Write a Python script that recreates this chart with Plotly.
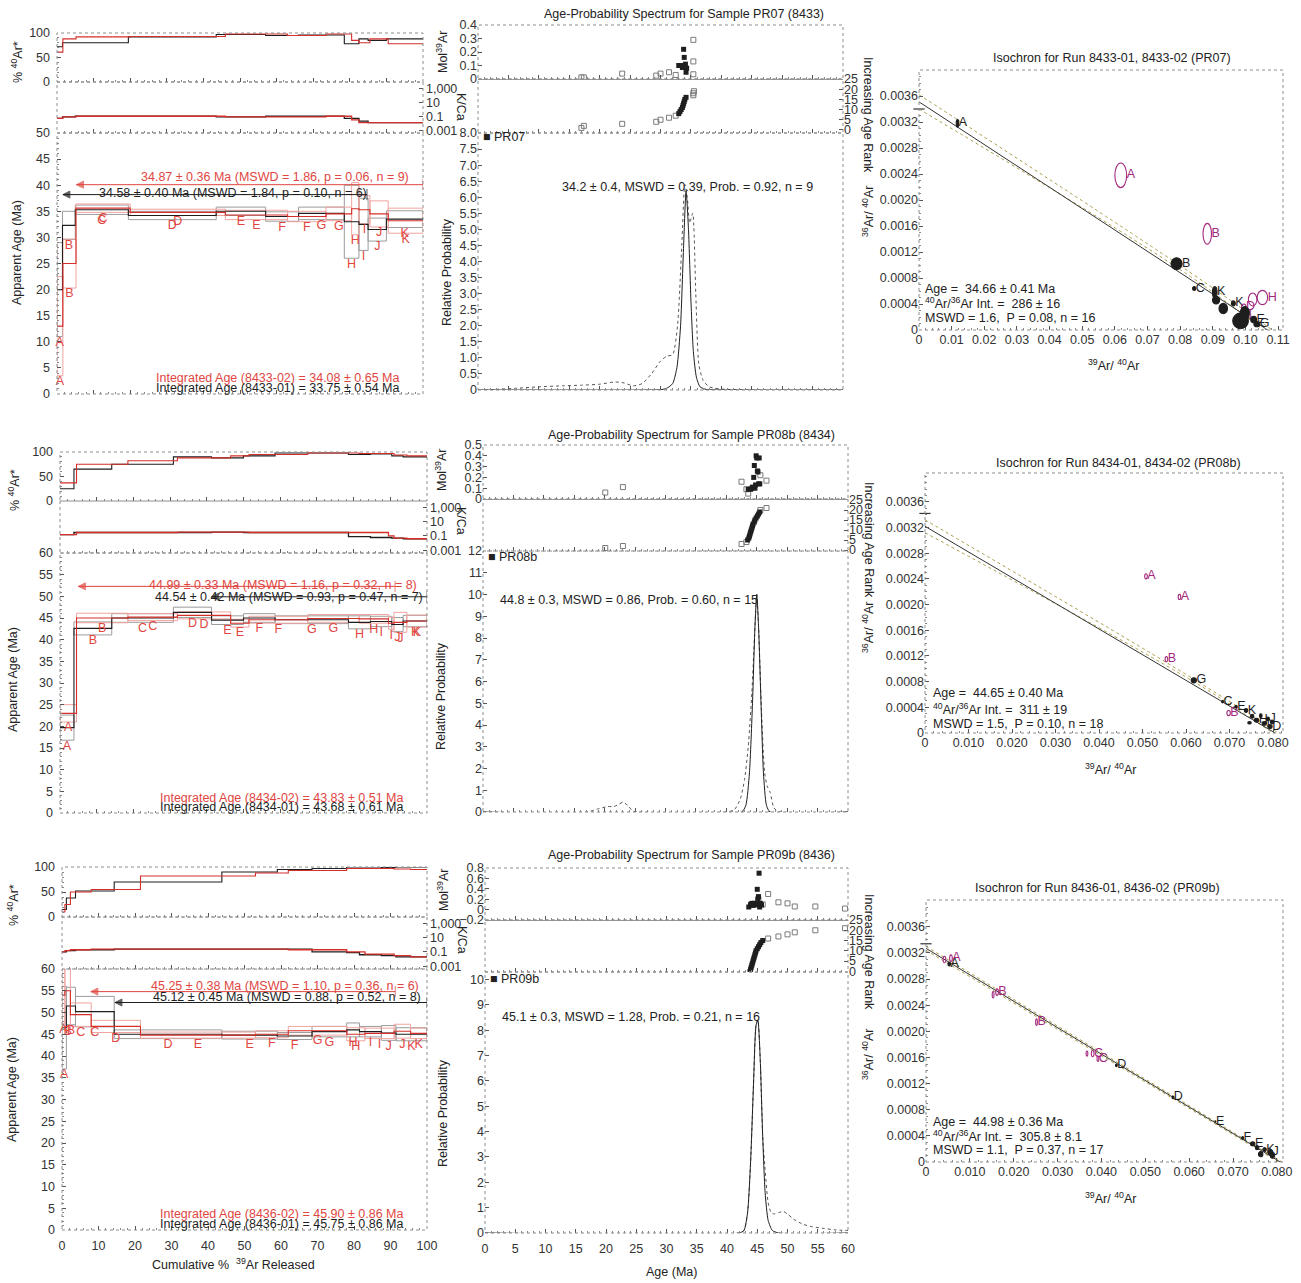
import plotly.graph_objects as go

# ======================= DATA =======================
STEPS = ["A", "B", "C", "D", "E", "F", "G", "H", "I", "J", "K"]

# ---- PR07 (8433) step heating, run -01 (black) and -02 (red)
PR07_01_cum = [0, 1.5, 5.0, 19.5, 43.5, 57, 66, 78.5, 82.5, 85, 90, 100]
PR07_01_age = [20.0, 32.3, 35.3, 34.2, 35.0, 34.0, 34.6, 33.0, 32.5, 31.5, 33.5]
PR07_01_err = [9.0, 2.7, 0.9, 0.8, 0.8, 0.9, 1.2, 7.0, 5.0, 2.2, 1.6]
PR07_01_rad = [72, 80, 80, 92, 97, 95, 96, 78, 88, 85, 88]
PR07_01_kca = [0.05, 0.08, 0.1, 0.1, 0.08, 0.1, 0.1, 0.05, 0.02, 0.012, 0.012]
PR07_02_cum = [0, 1.6, 5.2, 20, 46, 63, 73.5, 80.5, 82.5, 85.5, 90.5, 100]
PR07_02_age = [13.0, 25.0, 35.6, 34.8, 34.3, 34.0, 34.5, 35.5, 35.3, 34.5, 33.2]
PR07_02_err = [9.5, 4.7, 0.8, 0.6, 0.9, 1.0, 1.3, 5.0, 2.7, 2.5, 2.4]
PR07_02_rad = [61, 88, 92, 93, 98, 95, 98, 85, 80, 88, 78]
PR07_02_kca = [0.05, 0.08, 0.1, 0.1, 0.08, 0.08, 0.1, 0.03, 0.012, 0.012, 0.012]
PR07_PLAT_02 = [5.3, 100]
PR07_PLAT_01 = [1.6, 84.7]
PR07_PLAT_02_TXT = "34.87 ± 0.36 Ma (MSWD = 1.86, p = 0.06, n = 9)"
PR07_PLAT_01_TXT = "34.58 ± 0.40 Ma (MSWD = 1.84, p = 0.10, n = 6)"
PR07_INT_02 = "Integrated Age (8433-02) = 34.08 ± 0.65 Ma"
PR07_INT_01 = "Integrated Age (8433-01) = 33.75 ± 0.54 Ma"

# ---- PR08b (8434)
PR08_01_cum = [0, 3.8, 14.1, 30.9, 41.3, 50, 58.6, 78.6, 84.6, 90.4, 93.5, 100]
PR08_01_age = [19.7, 42.6, 45.0, 46.3, 44.5, 45.0, 44.6, 44.0, 44.2, 43.5, 44.3]
PR08_01_err = [2.9, 1.5, 1.0, 1.2, 1.0, 1.0, 0.9, 1.5, 1.2, 1.6, 1.3]
PR08_01_rad = [25, 65, 75, 90, 88, 92, 98, 95, 96, 92, 90]
PR08_01_kca = [0.15, 0.3, 0.3, 0.3, 0.35, 0.3, 0.3, 0.08, 0.06, 0.05, 0.04]
PR08_02_cum = [0, 4.5, 18.5, 32, 46.5, 51.5, 67.5, 81.5, 89.5, 91, 94.5, 100]
PR08_02_age = [23.0, 45.0, 45.2, 45.6, 43.8, 44.6, 44.9, 44.8, 43.8, 44.0, 44.3]
PR08_02_err = [2.0, 1.1, 0.8, 0.8, 0.9, 0.8, 0.9, 1.0, 1.4, 2.3, 1.4]
PR08_02_rad = [37, 75, 82, 88, 92, 95, 98, 97, 97, 94, 92]
PR08_02_kca = [0.15, 0.3, 0.3, 0.35, 0.35, 0.3, 0.3, 0.3, 0.1, 0.05, 0.04]
PR08_PLAT_02 = [5.0, 91.3]
PR08_PLAT_01 = [41.3, 100]
PR08_PLAT_02_TXT = "44.99 ± 0.33 Ma (MSWD = 1.16, p = 0.32, n = 8)"
PR08_PLAT_01_TXT = "44.54 ± 0.42 Ma (MSWD = 0.93, p = 0.47, n = 7)"
PR08_INT_02 = "Integrated Age (8434-02) = 43.83 ± 0.51 Ma"
PR08_INT_01 = "Integrated Age (8434-01) = 43.68 ± 0.61 Ma"

# ---- PR09b (8436)
PR09_01_cum = [0, 1.2, 3.7, 14.3, 43.8, 59, 68.5, 78, 81.5, 87.5, 91.5, 100]
PR09_01_age = [46.5, 51.5, 50.2, 45.0, 44.8, 44.6, 45.6, 46.0, 45.6, 45.3, 45.0]
PR09_01_err = [9.5, 4.3, 3.5, 1.0, 0.9, 0.8, 1.2, 1.6, 1.2, 1.7, 1.5]
PR09_01_rad = [15, 38, 52, 70, 90, 95, 97, 100, 100, 99, 100]
PR09_01_kca = [0.1, 0.15, 0.2, 0.25, 0.25, 0.25, 0.1, 0.08, 0.04, 0.03, 0.02]
PR09_02_cum = [0, 0.8, 2.3, 8, 21.5, 53, 62, 78, 83, 91, 95.5, 100]
PR09_02_age = [54.0, 55.0, 49.5, 46.8, 44.8, 45.0, 45.8, 45.0, 45.2, 45.7, 45.2]
PR09_02_err = [6.5, 8.0, 2.7, 1.4, 0.7, 0.8, 1.0, 1.5, 1.2, 1.6, 1.2]
PR09_02_rad = [10, 25, 50, 55, 82, 88, 93, 97, 97, 96, 95]
PR09_02_kca = [0.1, 0.15, 0.2, 0.25, 0.25, 0.25, 0.2, 0.1, 0.05, 0.03, 0.02]
PR09_PLAT_02 = [7.9, 91.3]
PR09_PLAT_01 = [14.5, 100]
PR09_PLAT_02_TXT = "45.25 ± 0.38 Ma (MSWD = 1.10, p = 0.36, n = 6)"
PR09_PLAT_01_TXT = "45.12 ± 0.45 Ma (MSWD = 0.88, p = 0.52, n = 8)"
PR09_INT_02 = "Integrated Age (8436-02) = 45.90 ± 0.86 Ma"
PR09_INT_01 = "Integrated Age (8436-01) = 45.75 ± 0.86 Ma"

# ---- Age-probability spectra
PR07_PROB_ALL_X = [1, 3, 6, 10, 14, 17, 20, 22.5, 24, 25.5, 27, 28.5, 30, 31, 32, 32.8, 33.5, 34.0, 34.4, 34.8, 35.3, 35.8, 36.3, 37, 38, 40, 45, 60]
PR07_PROB_ALL_Y = [0, 0.02, 0.05, 0.1, 0.13, 0.15, 0.18, 0.25, 0.22, 0.13, 0.2, 0.5, 0.9, 1.05, 1.1, 2.0, 4.5, 6.4, 6.0, 5.2, 5.5, 3.0, 0.8, 0.3, 0.1, 0.03, 0, 0]
PR07_PROB_SEL_X = [0, 28, 30, 31, 32, 32.7, 33.3, 33.8, 34.2, 34.6, 35.0, 35.4, 35.9, 36.5, 37.5, 40, 60]
PR07_PROB_SEL_Y = [0, 0, 0.01, 0.05, 0.2, 0.7, 2.0, 4.5, 6.2, 5.0, 2.8, 1.2, 0.4, 0.1, 0.02, 0, 0]
PR08_PROB_ALL_X = [0, 17, 19, 20.5, 21.5, 22.3, 23, 23.8, 24.6, 25.5, 40, 41.3, 42.3, 43.0, 43.6, 44.2, 44.7, 45.0, 45.3, 45.8, 46.3, 46.7, 47.2, 47.8, 48.5, 60]
PR08_PROB_ALL_Y = [0, 0, 0.15, 0.25, 0.25, 0.35, 0.45, 0.3, 0.05, 0, 0, 0.1, 0.6, 1.5, 3.0, 5.5, 8.5, 10.0, 8.5, 4.5, 1.8, 1.2, 0.9, 0.2, 0.03, 0]
PR08_PROB_SEL_X = [0, 42.5, 43.2, 43.8, 44.3, 44.7, 45.0, 45.3, 45.7, 46.1, 46.6, 47.2, 60]
PR08_PROB_SEL_Y = [0, 0, 0.3, 1.8, 5.0, 8.5, 10.0, 8.5, 5.0, 1.8, 0.3, 0, 0]
PR09_PROB_ALL_X = [0, 42, 42.8, 43.4, 43.9, 44.4, 44.8, 45.1, 45.5, 45.9, 46.3, 46.8, 47.3, 47.8, 48.5, 49.3, 50.0, 51, 52.5, 54, 56, 58, 60]
PR09_PROB_ALL_Y = [0, 0, 0.1, 0.8, 2.8, 6.0, 8.2, 8.4, 6.8, 3.8, 2.5, 1.2, 0.8, 0.75, 0.8, 0.85, 0.75, 0.55, 0.35, 0.25, 0.18, 0.12, 0.1]
PR09_PROB_SEL_X = [0, 42, 42.8, 43.4, 43.9, 44.4, 44.8, 45.1, 45.5, 45.9, 46.3, 46.8, 47.5, 48.5, 60]
PR09_PROB_SEL_Y = [0, 0, 0.1, 0.8, 2.8, 6.0, 8.2, 8.4, 6.8, 3.8, 1.6, 0.5, 0.1, 0, 0]

# ---- Mol 39Ar and age-rank points
PR07_MOL_OPEN_AGE = [17.0, 17.4, 23.7, 29.3, 30.0, 31.4, 32.5, 35.4, 35.4, 35.4]
PR07_MOL_OPEN = [0.012, 0.012, 0.04, 0.025, 0.04, 0.05, 0.03, 0.29, 0.13, 0.035]
PR07_MOL_FILL_AGE = [33.0, 33.3, 33.6, 33.8, 33.9, 34.0, 34.1, 34.2, 34.3]
PR07_MOL_FILL = [0.10, 0.10, 0.085, 0.22, 0.16, 0.09, 0.11, 0.05, 0.08]
PR07_RANK_OPEN_AGE = [17.0, 17.4, 23.7, 29.3, 30.0, 31.4, 32.5, 35.4, 35.4, 35.5]
PR07_RANK_OPEN = [1, 2, 3, 4, 5, 6, 7, 17, 18, 19]
PR07_RANK_FILL_AGE = [33.0, 33.2, 33.4, 33.6, 33.7, 33.8, 33.9, 34.0, 34.2]
PR07_RANK_FILL = [8, 9, 10, 11, 12, 13, 14, 15, 16]

PR08_MOL_OPEN_AGE = [20.1, 23.0, 42.5, 43.3, 43.6, 45.6, 46.6]
PR08_MOL_OPEN = [0.06, 0.11, 0.16, 0.09, 0.05, 0.22, 0.17]
PR08_MOL_FILL_AGE = [43.6, 44.0, 44.2, 44.3, 44.5, 44.6, 44.7, 44.8, 44.9, 45.0, 45.1, 45.2, 45.3, 45.4, 45.5]
PR08_MOL_FILL = [0.09, 0.09, 0.10, 0.11, 0.20, 0.31, 0.10, 0.13, 0.40, 0.38, 0.26, 0.25, 0.14, 0.38, 0.14]
PR08_RANK_OPEN_AGE = [20.1, 23.0, 42.5, 43.3, 45.6, 46.6]
PR08_RANK_OPEN = [1, 2, 3, 4, 20, 21]
PR08_RANK_FILL_AGE = [43.5, 43.7, 43.8, 43.9, 44.0, 44.1, 44.2, 44.3, 44.4, 44.6, 44.7, 44.9, 45.1, 45.3, 45.5]
PR08_RANK_FILL = [5, 6, 7, 8, 9, 10, 11, 12, 13, 14, 15, 16, 17, 18, 19]

PR09_MOL_OPEN_AGE = [45.2, 45.9, 46.8, 48.5, 50.0, 51.2, 54.6, 59.5]
PR09_MOL_OPEN = [0.20, 0.10, 0.30, 0.14, 0.12, 0.06, 0.06, 0.02]
PR09_MOL_FILL_AGE = [43.6, 43.9, 44.1, 44.3, 44.5, 44.6, 44.8, 44.9, 45.0, 45.1, 45.2, 45.3, 45.4, 45.5, 45.6, 45.7]
PR09_MOL_FILL = [0.05, 0.10, 0.12, 0.08, 0.12, 0.12, 0.10, 0.09, 0.39, 0.20, 0.25, 0.70, 0.05, 0.12, 0.10, 0.09]
PR09_RANK_OPEN_AGE = [46.8, 48.5, 50.0, 51.2, 54.6, 59.5]
PR09_RANK_OPEN = [16, 17, 18, 19, 20, 21]
PR09_RANK_FILL_AGE = [43.8, 43.9, 44.0, 44.1, 44.2, 44.3, 44.4, 44.5, 44.6, 44.7, 44.8, 45.0, 45.2, 45.4, 45.6, 45.9]
PR09_RANK_FILL = [0, 1, 2, 3, 4, 5, 6, 7, 8, 9, 10, 11, 12, 13, 14, 15]

# ---- Isochrons: ellipse centre x, centre y, half-width, half-height, label
PR07_ISO_FILL_X = [0.0118, 0.0789, 0.0843, 0.0906, 0.0910, 0.0932, 0.0963, 0.0985, 0.0998, 0.1025, 0.1035]
PR07_ISO_FILL_Y = [0.00318, 0.00102, 0.00064, 0.00058, 0.00046, 0.00033, 0.00041, 0.00014, 0.00026, 0.00016, 0.00009]
PR07_ISO_FILL_W = [0.0004, 0.0017, 0.0005, 0.0007, 0.0011, 0.0013, 0.0006, 0.0024, 0.0014, 0.0009, 0.0009]
PR07_ISO_FILL_H = [0.00006, 0.00009, 0.00003, 0.00009, 0.00006, 0.00008, 0.00004, 0.00012, 0.0001, 0.00005, 0.00004]
PR07_ISO_FILL_LAB = ["A", "B", "C", "K", "", "", "K", "", "", "E", "G"]
PR07_ISO_OPEN_X = [0.0618, 0.0883, 0.1022, 0.1052, 0.0995, 0.1002]
PR07_ISO_OPEN_Y = [0.00238, 0.00148, 0.00047, 0.00050, 0.00035, 0.00021]
PR07_ISO_OPEN_W = [0.0018, 0.0013, 0.0013, 0.0016, 0.0007, 0.0007]
PR07_ISO_OPEN_H = [0.00019, 0.00016, 0.0001, 0.00011, 0.00005, 0.00004]
PR07_ISO_OPEN_LAB = ["A", "B", "", "H", "D", "I"]
PR07_ISO_LINE_X = [0, 0.1068]
PR07_ISO_LINE_Y = [0.00351, 0]
PR07_ISO_HI_X = [0, 0.08, 0.1082]
PR07_ISO_HI_Y = [0.00362, 0.00099, 0]
PR07_ISO_LO_X = [0, 0.08, 0.1055]
PR07_ISO_LO_Y = [0.00340, 0.00093, 0]
PR07_ISO_INT = [0.00340]
PR07_ISO_TXT = ["Age =  34.66 ± 0.41 Ma", "<sup>40</sup>Ar/<sup>36</sup>Ar Int. =  286 ± 16", "MSWD = 1.6,  P = 0.08, n = 16"]

PR08_ISO_FILL_X = [0.0618, 0.0684, 0.0715, 0.0738, 0.0752, 0.0762, 0.0772, 0.0780, 0.0788, 0.0793, 0.0798, 0.0746]
PR08_ISO_FILL_Y = [0.00082, 0.00049, 0.00041, 0.00035, 0.00026, 0.00020, 0.00027, 0.00015, 0.00022, 0.00010, 0.00017, 0.00016]
PR08_ISO_FILL_W = [0.0006, 0.0002, 0.0003, 0.0004, 0.0004, 0.0005, 0.0003, 0.0005, 0.0004, 0.0005, 0.0004, 0.0004]
PR08_ISO_FILL_H = [0.00004, 0.00002, 0.00002, 0.00003, 0.00003, 0.00003, 0.00003, 0.00003, 0.00003, 0.00003, 0.00003, 0.00002]
PR08_ISO_FILL_LAB = ["G", "C", "E", "K", "", "H", "", "I", "J", "D", "", ""]
PR08_ISO_OPEN_X = [0.0508, 0.0585, 0.0555, 0.0698]
PR08_ISO_OPEN_Y = [0.00244, 0.00212, 0.00115, 0.00031]
PR08_ISO_OPEN_W = [0.0003, 0.0003, 0.0003, 0.0004]
PR08_ISO_OPEN_H = [0.00004, 0.00004, 0.00004, 0.00004]
PR08_ISO_OPEN_LAB = ["A", "A", "B", "B"]
PR08_ISO_LINE_X = [0, 0.0805]
PR08_ISO_LINE_Y = [0.00322, 0]
PR08_ISO_HI_X = [0, 0.062, 0.0812]
PR08_ISO_HI_Y = [0.00332, 0.00083, 0]
PR08_ISO_LO_X = [0, 0.062, 0.0799]
PR08_ISO_LO_Y = [0.00312, 0.00079, 0]
PR08_ISO_INT = [0.00342]
PR08_ISO_TXT = ["Age =  44.65 ± 0.40 Ma", "<sup>40</sup>Ar/<sup>36</sup>Ar Int. =  311 ± 19", "MSWD = 1.5,  P = 0.10, n = 18"]

PR09_ISO_FILL_X = [0.0053, 0.0434, 0.0563, 0.0660, 0.0722, 0.0745, 0.0755, 0.0763, 0.0772, 0.0785, 0.0790]
PR09_ISO_FILL_Y = [0.00303, 0.00148, 0.00099, 0.00062, 0.00037, 0.00028, 0.00022, 0.00012, 0.00019, 0.00015, 0.00010]
PR09_ISO_FILL_W = [0.0003, 0.0002, 0.0002, 0.0001, 0.0002, 0.0005, 0.0004, 0.0005, 0.0004, 0.0005, 0.0005]
PR09_ISO_FILL_H = [0.00003, 0.00002, 0.00002, 0.00001, 0.00002, 0.00003, 0.00003, 0.00004, 0.00003, 0.00004, 0.00004]
PR09_ISO_FILL_LAB = ["A", "D", "D", "E", "F", "E", "", "", "K", "J", ""]
PR09_ISO_OPEN_X = [0.0042, 0.0057, 0.0153, 0.0162, 0.0252, 0.0367, 0.0380, 0.0392]
PR09_ISO_OPEN_Y = [0.00310, 0.00312, 0.00256, 0.00260, 0.00214, 0.00166, 0.00166, 0.00158]
PR09_ISO_OPEN_W = [0.0003, 0.0003, 0.0002, 0.0003, 0.0002, 0.0002, 0.0003, 0.0002]
PR09_ISO_OPEN_H = [0.00005, 0.00005, 0.00005, 0.00005, 0.00005, 0.00004, 0.00005, 0.00004]
PR09_ISO_OPEN_LAB = ["", "A", "", "B", "B", "", "C", "C"]
PR09_ISO_LINE_X = [0, 0.0808]
PR09_ISO_LINE_Y = [0.00327, 0]
PR09_ISO_HI_X = [0, 0.0812]
PR09_ISO_HI_Y = [0.00330, 0]
PR09_ISO_LO_X = [0, 0.0804]
PR09_ISO_LO_Y = [0.00324, 0]
PR09_ISO_INT = [0.00334]
PR09_ISO_TXT = ["Age =  44.98 ± 0.36 Ma", "<sup>40</sup>Ar/<sup>36</sup>Ar Int. =  305.8 ± 8.1", "MSWD = 1.1,  P = 0.37, n = 17"]

# ---- tick labels
KCA_TICKS = [0.001, 0.1, 10, 1000]
KCA_LABELS = ["0.001", "0.1", "10", "1,000"]
PROB07_TICKS = [0, 0.5, 1.0, 1.5, 2.0, 2.5, 3.0, 3.5, 4.0, 4.5, 5.0, 5.5, 6.0, 6.5, 7.0, 7.5, 8.0]
PROB07_LABELS = ["0", "0.5", "1.0", "1.5", "2.0", "2.5", "3.0", "3.5", "4.0", "4.5", "5.0", "5.5", "6.0", "6.5", "7.0", "7.5", "8.0"]
ISO_Y_TICKS = [0, 0.0004, 0.0008, 0.0012, 0.0016, 0.0020, 0.0024, 0.0028, 0.0032, 0.0036]
ISO_Y_LABELS = ["0", "0.0004", "0.0008", "0.0012", "0.0016", "0.0020", "0.0024", "0.0028", "0.0032", "0.0036"]
ISO07_X_TICKS = [0, 0.01, 0.02, 0.03, 0.04, 0.05, 0.06, 0.07, 0.08, 0.09, 0.10, 0.11]
ISO07_X_LABELS = ["0", "0.01", "0.02", "0.03", "0.04", "0.05", "0.06", "0.07", "0.08", "0.09", "0.10", "0.11"]
ISO_X_TICKS = [0, 0.01, 0.02, 0.03, 0.04, 0.05, 0.06, 0.07, 0.08]
ISO_X_LABELS = ["0", "0.010", "0.020", "0.030", "0.040", "0.050", "0.060", "0.070", "0.080"]

# ======================= DRAWING =======================
W, H = 1301, 1283
FONT = "Liberation Sans, Arial, sans-serif"
TS = 12.5
BLACK = "#1e1e1e"
GREY = "#9c9c9c"
RED = "#d42f2a"
PINK = "#f0a4a0"
LRED = "#e0463f"
MAG = "#a2297f"
OLIVE = "#a99b45"


def X(p):
    return p / W


def Y(p):
    return 1 - p / H


fig = go.Figure()
axes = {}
shapes = []
anns = []
count = [0]


def minor(d):
    return dict(dtick=d, ticks="inside", ticklen=2, tickcolor="#888")


def pair(xpx, ypx, xr, yr, xo=None, yo=None):
    count[0] += 1
    s = "" if count[0] == 1 else str(count[0])
    base = dict(showgrid=False, zeroline=False, showline=False, ticks="inside",
                ticklen=4, tickwidth=1, tickcolor="#555", automargin=False,
                tickfont=dict(family=FONT, size=12.5, color="#333"))
    xa = dict(base, domain=[X(xpx[0]), X(xpx[1])], range=xr, anchor="y" + s)
    ya = dict(base, domain=[Y(ypx[1]), Y(ypx[0])], range=yr, anchor="x" + s)
    xa.update(xo or {})
    ya.update(yo or {})
    axes["xaxis" + s] = xa
    axes["yaxis" + s] = ya
    shapes.append(dict(type="rect", xref="x" + s + " domain", yref="y" + s + " domain",
                       x0=0, x1=1, y0=0, y1=1, line=dict(color="#8c8c8c", width=1, dash="dot")))
    return "x" + s, "y" + s


def add(tr, xa, ya):
    tr.update(xaxis=xa, yaxis=ya, showlegend=False, hoverinfo="skip")
    fig.add_trace(tr)


def ann(text, x, y, size=TS, color="#222", angle=0, xanchor="center", yanchor="middle",
        xref="paper", yref="paper"):
    if xref == "paper":
        x = X(x)
    if yref == "paper":
        y = Y(y)
    anns.append(dict(text=text, x=x, y=y, xref=xref, yref=yref, showarrow=False,
                     textangle=angle, xanchor=xanchor, yanchor=yanchor,
                     font=dict(family=FONT, size=size, color=color)))


def boxes(cum, age, err):
    xs, ys = [], []
    for i in range(len(age)):
        lo, hi = age[i] - err[i], age[i] + err[i]
        xs += [cum[i], cum[i + 1], cum[i + 1], cum[i], cum[i], None]
        ys += [lo, lo, hi, hi, lo, None]
    return xs, ys


def build_left(g, runs, plats, integ, xlabels):
    lx = g["lx"]
    cx = dict(dtick=10, minor=minor(2), showticklabels=False)
    # % 40Ar*
    xa, ya = pair(lx, g["pct"], [0, 100], [0, 100], xo=cx,
                  yo=dict(tickvals=[0, 50, 100], minor=minor(10), ticklabelstandoff=6))
    for r in runs:
        add(go.Scatter(x=r["cum"], y=r["rad"] + [r["rad"][-1]], mode="lines",
                       line=dict(color=r["dark"], width=1.1, shape="hv")), xa, ya)
    # K/Ca
    xa, ya = pair(lx, g["kca"], [0, 100], [-3.4, 3.9], xo=cx,
                  yo=dict(type="log", side="right", tickvals=KCA_TICKS, ticktext=KCA_LABELS,
                          ticklabelstandoff=2))
    for r in runs:
        add(go.Scatter(x=r["cum"], y=r["kca"] + [r["kca"][-1]], mode="lines",
                       line=dict(color=r["dark"], width=1.3, shape="hv")), xa, ya)
    # apparent age
    xo = dict(cx, showticklabels=xlabels, ticklabelstandoff=6)
    xa, ya = pair(lx, g["age"], [0, 100], [0, g["agemax"]], xo=xo,
                  yo=dict(dtick=5, minor=minor(1), ticklabelstandoff=6))
    for r in runs:
        bx, by = boxes(r["cum"], r["age"], r["err"])
        add(go.Scatter(x=bx, y=by, mode="lines", line=dict(color=r["light"], width=1)), xa, ya)
    for r in runs:
        add(go.Scatter(x=r["cum"], y=r["age"] + [r["age"][-1]], mode="lines",
                       line=dict(color=r["dark"], width=1.1, shape="hv")), xa, ya)
    for r in runs:
        mids = [(r["cum"][i] + r["cum"][i + 1]) / 2 for i in range(len(r["age"]))]
        bots = [r["age"][i] - r["err"][i] for i in range(len(r["age"]))]
        add(go.Scatter(x=mids, y=bots, mode="text", text=STEPS, textposition="bottom center",
                       cliponaxis=False, textfont=dict(family=FONT, size=TS, color=LRED)), xa, ya)
    for p in plats:
        add(go.Scatter(x=p["rng"], y=[p["lvl"], p["lvl"]], mode="lines+markers",
                       line=dict(color=p["col"], width=1),
                       marker=dict(symbol=["arrow-left", "line-ns"], size=[7, 8],
                                   color=p["col"], line=dict(width=1, color=p["col"]))), xa, ya)
        ann(p["txt"], p["tx"], p["ty"], color=p["col"], xref=xa, yref=ya)
    for t, yv, col in integ:
        ann(t, 94.3, yv, color=col, xanchor="right", xref=xa, yref=ya)


def build_mid(g, d, mol_rng, mol_dtick, rank_rng, prob_rng, prob_ticks, prob_labels, xlabels):
    mx = g["mx"]
    cx = dict(dtick=5, minor=minor(1), showticklabels=False)
    xa, ya = pair(mx, g["mol"], [0, 60], mol_rng,
                  xo=dict(cx, showline=True, linecolor="#9a9a9a"), yo=dict(dtick=mol_dtick))
    add(go.Scatter(x=d["mol_open_age"], y=d["mol_open"], mode="markers",
                   marker=dict(symbol="square-open", size=5, color="#7a7a7a", line=dict(width=1))), xa, ya)
    add(go.Scatter(x=d["mol_fill_age"], y=d["mol_fill"], mode="markers",
                   marker=dict(symbol="square", size=5, color=BLACK)), xa, ya)
    xa, ya = pair(mx, g["rank"], [0, 60], rank_rng, xo=cx,
                  yo=dict(side="right", dtick=5))
    add(go.Scatter(x=d["rank_open_age"], y=d["rank_open"], mode="markers",
                   marker=dict(symbol="square-open", size=5, color="#7a7a7a", line=dict(width=1))), xa, ya)
    add(go.Scatter(x=d["rank_fill_age"], y=d["rank_fill"], mode="markers",
                   marker=dict(symbol="square", size=5, color=BLACK)), xa, ya)
    xa, ya = pair(mx, g["prob"], [0, 60], prob_rng,
                  xo=dict(cx, showticklabels=xlabels, ticklabelstandoff=6),
                  yo=dict(tickvals=prob_ticks, ticktext=prob_labels))
    add(go.Scatter(x=d["all_x"], y=d["all_y"], mode="lines",
                   line=dict(color="#555", width=1, dash="dot", shape="spline", smoothing=0.6)), xa, ya)
    add(go.Scatter(x=d["sel_x"], y=d["sel_y"], mode="lines",
                   line=dict(color=BLACK, width=1, shape="spline", smoothing=0.6)), xa, ya)
    return xa, ya


def build_iso(g, d, xr, yr, xt, xl):
    xa, ya = pair(g["ix"], g["iy"], xr, yr,
                  xo=dict(tickvals=xt, ticktext=xl, minor=minor(0.002)),
                  yo=dict(tickvals=ISO_Y_TICKS, ticktext=ISO_Y_LABELS, minor=minor(0.0001)))
    add(go.Scatter(x=d["hi_x"], y=d["hi_y"], mode="lines",
                   line=dict(color=OLIVE, width=1, dash="dot", shape="spline")), xa, ya)
    add(go.Scatter(x=d["lo_x"], y=d["lo_y"], mode="lines",
                   line=dict(color=OLIVE, width=1, dash="dot", shape="spline")), xa, ya)
    add(go.Scatter(x=d["line_x"], y=d["line_y"], mode="lines",
                   line=dict(color="#333", width=1)), xa, ya)
    add(go.Scatter(x=[0] * len(d["int"]), y=d["int"], mode="markers", cliponaxis=False,
                   marker=dict(symbol="line-ew", size=8, line=dict(width=1.2, color="#333"))), xa, ya)
    for key, fill, col in (("open", "rgba(0,0,0,0)", MAG), ("fill", BLACK, BLACK)):
        cxs, cys, ws, hs, labs = d[key]
        for i in range(len(cxs)):
            shapes.append(dict(type="circle", xref=xa, yref=ya,
                               x0=cxs[i] - ws[i], x1=cxs[i] + ws[i],
                               y0=cys[i] - hs[i], y1=cys[i] + hs[i],
                               fillcolor=fill, line=dict(color=col, width=1.1)))
        add(go.Scatter(x=[cxs[i] + ws[i] for i in range(len(cxs))], y=cys, mode="text",
                       text=labs, textposition="middle right", cliponaxis=False,
                       textfont=dict(family=FONT, size=TS, color=col)), xa, ya)
    return xa, ya


ROWS = [
    dict(lx=(57, 423), pct=(33, 82), kca=(82, 133), age=(133, 394), agemax=50,
         mx=(478, 843), mol=(25, 79), rank=(79, 133), prob=(133, 390),
         ix=(919, 1283), iy=(70, 330)),
    dict(lx=(60, 427), pct=(452, 501), kca=(501, 553), age=(553, 813), agemax=60,
         mx=(483, 848), mol=(445, 499), rank=(499, 551), prob=(551, 812),
         ix=(925, 1283), iy=(473, 733)),
    dict(lx=(62, 427), pct=(867, 917), kca=(917, 969), age=(969, 1230), agemax=60,
         mx=(485, 848), mol=(868, 920), rank=(920, 972), prob=(972, 1233),
         ix=(926, 1283), iy=(900, 1162)),
]


def run(cum, age, err, rad, kca, dark, light):
    return dict(cum=cum, age=age, err=err, rad=rad, kca=kca, dark=dark, light=light)


# ---------- Row 1: PR07
g = ROWS[0]
build_left(g,
           [run(PR07_01_cum, PR07_01_age, PR07_01_err, PR07_01_rad, PR07_01_kca, BLACK, GREY),
            run(PR07_02_cum, PR07_02_age, PR07_02_err, PR07_02_rad, PR07_02_kca, RED, PINK)],
           [dict(rng=PR07_PLAT_02, lvl=40.1, col=LRED, txt=PR07_PLAT_02_TXT, tx=59.6, ty=41.6),
            dict(rng=PR07_PLAT_01, lvl=38.2, col=BLACK, txt=PR07_PLAT_01_TXT, tx=48, ty=38.5)],
           [(PR07_INT_02, 3.0, LRED), (PR07_INT_01, 1.1, BLACK)], False)
build_mid(g, dict(mol_open_age=PR07_MOL_OPEN_AGE, mol_open=PR07_MOL_OPEN,
                  mol_fill_age=PR07_MOL_FILL_AGE, mol_fill=PR07_MOL_FILL,
                  rank_open_age=PR07_RANK_OPEN_AGE, rank_open=PR07_RANK_OPEN,
                  rank_fill_age=PR07_RANK_FILL_AGE, rank_fill=PR07_RANK_FILL,
                  all_x=PR07_PROB_ALL_X, all_y=PR07_PROB_ALL_Y,
                  sel_x=PR07_PROB_SEL_X, sel_y=PR07_PROB_SEL_Y),
          [0, 0.4], 0.1, [-1.5, 25], [0, 8], PROB07_TICKS, PROB07_LABELS, False)
build_iso(g, dict(open=(PR07_ISO_OPEN_X, PR07_ISO_OPEN_Y, PR07_ISO_OPEN_W, PR07_ISO_OPEN_H, PR07_ISO_OPEN_LAB),
                  fill=(PR07_ISO_FILL_X, PR07_ISO_FILL_Y, PR07_ISO_FILL_W, PR07_ISO_FILL_H, PR07_ISO_FILL_LAB),
                  line_x=PR07_ISO_LINE_X, line_y=PR07_ISO_LINE_Y, hi_x=PR07_ISO_HI_X, hi_y=PR07_ISO_HI_Y,
                  lo_x=PR07_ISO_LO_X, lo_y=PR07_ISO_LO_Y, int=PR07_ISO_INT),
          [0, 0.1115], [0, 0.004], ISO07_X_TICKS, ISO07_X_LABELS)
ann("% <sup>40</sup>Ar*", 17, 62, angle=-90)
ann("Apparent Age (Ma)", 17, 253, angle=-90)
ann("Mol<sup>39</sup>Ar", 442, 52, angle=-90)
ann("K/Ca", 461, 107, angle=90)
ann("Relative Probability", 447, 272, angle=-90)
ann("Increasing Age Rank", 868, 115, angle=90)
ann("<sup>36</sup>Ar/ <sup>40</sup>Ar", 868, 212, angle=-90)
ann("<sup>39</sup>Ar/ <sup>40</sup>Ar", 1113, 365)
ann("Age-Probability Spectrum for Sample PR07 (8433)", 684, 14)
ann("Isochron for Run 8433-01, 8433-02 (PR07)", 1112, 58)
ann("34.2 ± 0.4, MSWD = 0.39, Prob. = 0.92, n = 9", 688, 187)
ann("■ PR07", 481, 137, xanchor="left")
for i, t in enumerate(PR07_ISO_TXT):
    ann(t, 923, 289 + 14.5 * i, xanchor="left")

# ---------- Row 2: PR08b
g = ROWS[1]
build_left(g,
           [run(PR08_01_cum, PR08_01_age, PR08_01_err, PR08_01_rad, PR08_01_kca, BLACK, GREY),
            run(PR08_02_cum, PR08_02_age, PR08_02_err, PR08_02_rad, PR08_02_kca, RED, PINK)],
           [dict(rng=PR08_PLAT_02, lvl=52.3, col=LRED, txt=PR08_PLAT_02_TXT, tx=60.8, ty=52.6),
            dict(rng=PR08_PLAT_01, lvl=49.9, col=BLACK, txt=PR08_PLAT_01_TXT, tx=62.3, ty=49.9)],
           [(PR08_INT_02, 3.5, LRED), (PR08_INT_01, 1.3, BLACK)], False)
build_mid(g, dict(mol_open_age=PR08_MOL_OPEN_AGE, mol_open=PR08_MOL_OPEN,
                  mol_fill_age=PR08_MOL_FILL_AGE, mol_fill=PR08_MOL_FILL,
                  rank_open_age=PR08_RANK_OPEN_AGE, rank_open=PR08_RANK_OPEN,
                  rank_fill_age=PR08_RANK_FILL_AGE, rank_fill=PR08_RANK_FILL,
                  all_x=PR08_PROB_ALL_X, all_y=PR08_PROB_ALL_Y,
                  sel_x=PR08_PROB_SEL_X, sel_y=PR08_PROB_SEL_Y),
          [0, 0.5], 0.1, [-0.5, 25.5], [0, 12], list(range(0, 13)), [str(v) for v in range(0, 13)], False)
build_iso(g, dict(open=(PR08_ISO_OPEN_X, PR08_ISO_OPEN_Y, PR08_ISO_OPEN_W, PR08_ISO_OPEN_H, PR08_ISO_OPEN_LAB),
                  fill=(PR08_ISO_FILL_X, PR08_ISO_FILL_Y, PR08_ISO_FILL_W, PR08_ISO_FILL_H, PR08_ISO_FILL_LAB),
                  line_x=PR08_ISO_LINE_X, line_y=PR08_ISO_LINE_Y, hi_x=PR08_ISO_HI_X, hi_y=PR08_ISO_HI_Y,
                  lo_x=PR08_ISO_LO_X, lo_y=PR08_ISO_LO_Y, int=PR08_ISO_INT),
          [0, 0.0823], [0, 0.00405], ISO_X_TICKS, ISO_X_LABELS)
ann("% <sup>40</sup>Ar*", 14, 490, angle=-90)
ann("Apparent Age (Ma)", 13, 680, angle=-90)
ann("Mol<sup>39</sup>Ar", 441, 470, angle=-90)
ann("K/Ca", 461, 521, angle=90)
ann("Relative Probability", 441, 696, angle=-90)
ann("Increasing Age Rank", 869, 540, angle=90)
ann("<sup>36</sup>Ar/ <sup>40</sup>Ar", 868, 628, angle=-90)
ann("<sup>39</sup>Ar/ <sup>40</sup>Ar", 1110, 769)
ann("Age-Probability Spectrum for Sample PR08b (8434)", 691, 435)
ann("Isochron for Run 8434-01, 8434-02 (PR08b)", 1118, 463)
ann("44.8 ± 0.3, MSWD = 0.86, Prob. = 0.60, n = 15", 498, 600, xanchor="left")
ann("■ PR08b", 486, 557, xanchor="left")
for i, t in enumerate(PR08_ISO_TXT):
    ann(t, 931, 693 + 15.5 * i, xanchor="left")

# ---------- Row 3: PR09b
g = ROWS[2]
build_left(g,
           [run(PR09_01_cum, PR09_01_age, PR09_01_err, PR09_01_rad, PR09_01_kca, BLACK, GREY),
            run(PR09_02_cum, PR09_02_age, PR09_02_err, PR09_02_rad, PR09_02_kca, RED, PINK)],
           [dict(rng=PR09_PLAT_02, lvl=54.8, col=LRED, txt=PR09_PLAT_02_TXT, tx=61.2, ty=56.2),
            dict(rng=PR09_PLAT_01, lvl=52.3, col=BLACK, txt=PR09_PLAT_01_TXT, tx=61.6, ty=53.6)],
           [(PR09_INT_02, 3.7, LRED), (PR09_INT_01, 1.4, BLACK)], True)
build_mid(g, dict(mol_open_age=PR09_MOL_OPEN_AGE, mol_open=PR09_MOL_OPEN,
                  mol_fill_age=PR09_MOL_FILL_AGE, mol_fill=PR09_MOL_FILL,
                  rank_open_age=PR09_RANK_OPEN_AGE, rank_open=PR09_RANK_OPEN,
                  rank_fill_age=PR09_RANK_FILL_AGE, rank_fill=PR09_RANK_FILL,
                  all_x=PR09_PROB_ALL_X, all_y=PR09_PROB_ALL_Y,
                  sel_x=PR09_PROB_SEL_X, sel_y=PR09_PROB_SEL_Y),
          [-0.2, 0.8], 0.2, [-0.3, 25], [0, 10.3], list(range(0, 11)), [str(v) for v in range(0, 11)], True)
build_iso(g, dict(open=(PR09_ISO_OPEN_X, PR09_ISO_OPEN_Y, PR09_ISO_OPEN_W, PR09_ISO_OPEN_H, PR09_ISO_OPEN_LAB),
                  fill=(PR09_ISO_FILL_X, PR09_ISO_FILL_Y, PR09_ISO_FILL_W, PR09_ISO_FILL_H, PR09_ISO_FILL_LAB),
                  line_x=PR09_ISO_LINE_X, line_y=PR09_ISO_LINE_Y, hi_x=PR09_ISO_HI_X, hi_y=PR09_ISO_HI_Y,
                  lo_x=PR09_ISO_LO_X, lo_y=PR09_ISO_LO_Y, int=PR09_ISO_INT),
          [0, 0.0814], [0, 0.00401], ISO_X_TICKS, ISO_X_LABELS)
ann("% <sup>40</sup>Ar*", 13, 905, angle=-90)
ann("Apparent Age (Ma)", 12, 1090, angle=-90)
ann("Mol<sup>39</sup>Ar", 443, 890, angle=-90)
ann("K/Ca", 462, 940, angle=90)
ann("Relative Probability", 443, 1113, angle=-90)
ann("Increasing Age Rank", 869, 952, angle=90)
ann("<sup>36</sup>Ar/ <sup>40</sup>Ar", 868, 1055, angle=-90)
ann("<sup>39</sup>Ar/ <sup>40</sup>Ar", 1110, 1198)
ann("Age-Probability Spectrum for Sample PR09b (8436)", 691, 855)
ann("Isochron for Run 8436-01, 8436-02 (PR09b)", 1097, 888)
ann("45.1 ± 0.3, MSWD = 1.28, Prob. = 0.21, n = 16", 500, 1017, xanchor="left")
ann("■ PR09b", 488, 979, xanchor="left")
ann("Cumulative %  <sup>39</sup>Ar Released", 233, 1264)
ann("Age (Ma)", 671, 1272)
for i, t in enumerate(PR09_ISO_TXT):
    ann(t, 931, 1122 + 14 * i, xanchor="left")

fig.update_layout(width=W, height=H, margin=dict(l=0, r=0, t=0, b=0, pad=0, autoexpand=False),
                  paper_bgcolor="white", plot_bgcolor="white", showlegend=False,
                  font=dict(family=FONT, size=12, color="#222"),
                  shapes=shapes, annotations=anns, **axes)
fig.write_html("out.html", config={"displayModeBar": False, "staticPlot": True},
               post_script="document.body.style.margin='0px';document.body.style.overflow='hidden';")
